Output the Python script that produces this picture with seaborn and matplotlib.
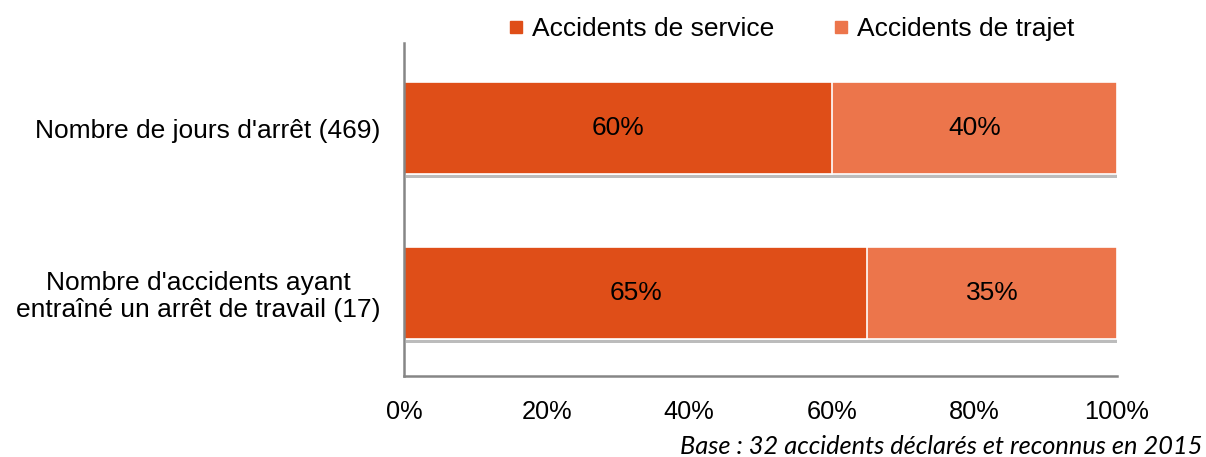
import matplotlib
matplotlib.use("Agg")
import matplotlib.pyplot as plt
import matplotlib.patheffects as pe
from matplotlib.lines import Line2D
import seaborn as sns
import pandas as pd
import numpy as np

categories = ["Nombre de jours d'arrêt (469)",
              "Nombre d'accidents ayant\nentraîné un arrêt de travail (17)"]
service = [60, 65]
trajet = [40, 35]
series_names = ["Accidents de service", "Accidents de trajet"]
xticks = [0, 20, 40, 60, 80, 100]
xtick_labels = ["0%", "20%", "40%", "60%", "80%", "100%"]
footnote = "Base : 32 accidents déclarés et reconnus en 2015"

c_service = "#DF4E18"
c_trajet = "#EC754B"

sns.set_theme(style="white")
plt.rcParams['font.family'] = ['Liberation Sans', 'DejaVu Sans']
plt.rcParams['text.color'] = 'black'
plt.rcParams['xtick.color'] = 'black'
plt.rcParams['ytick.color'] = 'black'

df = pd.DataFrame({"cat": categories, "service": service, "trajet": trajet})
df["total"] = df["service"] + df["trajet"]

fig = plt.figure(figsize=(12.06, 4.57), dpi=100)
ax = fig.add_axes([404/1206, 1-376/457, (1117-404)/1206, (376-43)/457])

shadow = [pe.SimplePatchShadow(offset=(1.5, -3), shadow_rgbFace="#7a7a7a", alpha=0.5), pe.Normal()]

sns.barplot(data=df, y="cat", x="total", orient="h", color=c_trajet, width=0.56,
            saturation=1, edgecolor="white", linewidth=1.2, ax=ax)
for p in ax.patches:
    p.set_path_effects(shadow)
sns.barplot(data=df, y="cat", x="service", orient="h", color=c_service, width=0.56,
            saturation=1, edgecolor="white", linewidth=1.2, ax=ax)

# labels
for i, (s, t) in enumerate(zip(service, trajet)):
    ax.text(s / 2, i, f"{s}%", ha="center", va="center", fontsize=19, color="black")
    ax.text(s + t / 2, i, f"{t}%", ha="center", va="center", fontsize=19, color="black")

ax.set_xlim(0, 100)
ax.set_ylim(1.506, -0.518)
ax.set_xticks(xticks)
ax.set_xticklabels(xtick_labels, fontsize=18.3, color="black")
ax.set_yticks(range(len(categories)))
ax.set_yticklabels(categories, fontsize=19, multialignment="center", color="black",
                   linespacing=1.15)
ax.tick_params(axis="x", length=0, pad=17)
ax.tick_params(axis="y", length=0, pad=17)
ax.set_xlabel("")
ax.set_ylabel("")

for s in ["top", "right"]:
    ax.spines[s].set_visible(False)
for s in ["left", "bottom"]:
    ax.spines[s].set_color("#868686")
    ax.spines[s].set_linewidth(1.8)

handles = [Line2D([], [], marker="s", linestyle="none", markersize=8, color=c_service),
           Line2D([], [], marker="s", linestyle="none", markersize=8, color=c_trajet)]
leg = fig.legend(handles, series_names, loc="center", bbox_to_anchor=(791/1206, 1-29/457),
                 ncol=2, frameon=False, fontsize=19, handlelength=0.6, handletextpad=0.3,
                 columnspacing=2.25)
for t in leg.get_texts():
    t.set_color("black")

fig.text(1202/1206, 1-446/457, footnote, ha="right", va="center", fontsize=18.3,
         style="italic", family=["Lato", "DejaVu Sans"], color="black")

fig.savefig("out.png", dpi=100)
